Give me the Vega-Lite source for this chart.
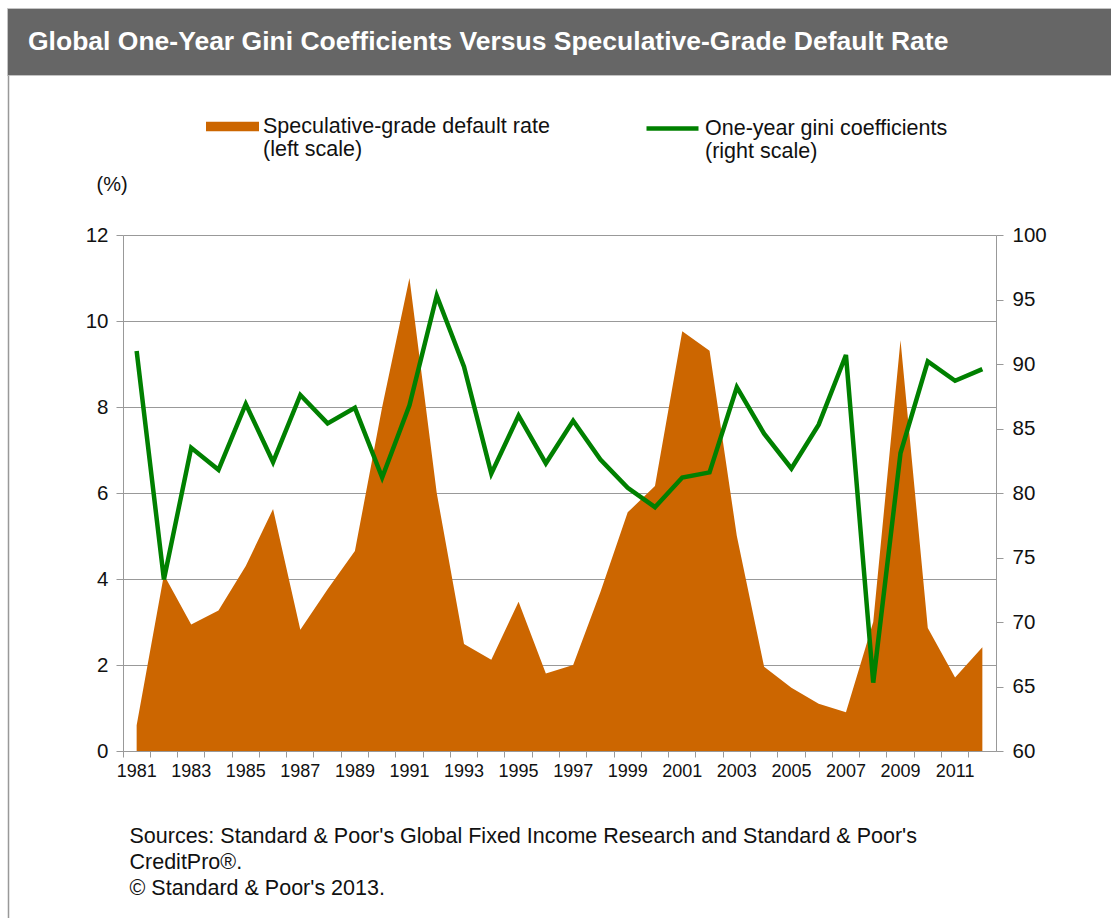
{
  "$schema": "https://vega.github.io/schema/vega-lite/v6.json",
  "background": "white",
  "padding": {"left": 6, "top": 7, "right": 0, "bottom": 0},
  "spacing": 160,
  "bounds": "flush",
  "center": true,
  "resolve": {"legend": {"fill": "independent", "stroke": "independent"}},
  "config": {
    "font": "Liberation Sans",
    "axis": {"labelFont": "Liberation Sans", "titleFont": "Liberation Sans", "labelColor": "#111", "titleColor": "#111", "titleFontWeight": "normal"},
    "legend": {"labelFont": "Liberation Sans", "labelColor": "#111"}
  },
  "datasets": {
    "d": [
      {"year": 1981, "rate": 0.6, "gini": 91.0},
      {"year": 1982, "rate": 4.1, "gini": 73.3},
      {"year": 1983, "rate": 2.94, "gini": 83.5},
      {"year": 1984, "rate": 3.27, "gini": 81.8},
      {"year": 1985, "rate": 4.3, "gini": 86.9},
      {"year": 1986, "rate": 5.63, "gini": 82.4},
      {"year": 1987, "rate": 2.82, "gini": 87.6},
      {"year": 1988, "rate": 3.76, "gini": 85.4},
      {"year": 1989, "rate": 4.65, "gini": 86.6},
      {"year": 1990, "rate": 8.0, "gini": 81.2},
      {"year": 1991, "rate": 11.0, "gini": 86.8},
      {"year": 1992, "rate": 6.0, "gini": 95.3},
      {"year": 1993, "rate": 2.49, "gini": 89.8},
      {"year": 1994, "rate": 2.12, "gini": 81.5},
      {"year": 1995, "rate": 3.47, "gini": 86.0},
      {"year": 1996, "rate": 1.8, "gini": 82.3},
      {"year": 1997, "rate": 2.0, "gini": 85.6},
      {"year": 1998, "rate": 3.7, "gini": 82.6},
      {"year": 1999, "rate": 5.55, "gini": 80.4},
      {"year": 2000, "rate": 6.16, "gini": 78.9},
      {"year": 2001, "rate": 9.76, "gini": 81.2},
      {"year": 2002, "rate": 9.31, "gini": 81.6},
      {"year": 2003, "rate": 5.0, "gini": 88.2},
      {"year": 2004, "rate": 1.96, "gini": 84.6},
      {"year": 2005, "rate": 1.47, "gini": 81.9},
      {"year": 2006, "rate": 1.1, "gini": 85.3},
      {"year": 2007, "rate": 0.9, "gini": 90.7},
      {"year": 2008, "rate": 3.0, "gini": 65.3},
      {"year": 2009, "rate": 9.55, "gini": 83.1},
      {"year": 2010, "rate": 2.86, "gini": 90.2},
      {"year": 2011, "rate": 1.71, "gini": 88.7},
      {"year": 2012, "rate": 2.41, "gini": 89.6}
    ]
  },
  "vconcat": [
    {
      "width": 1105,
      "height": 67,
      "view": {"fill": "#666666", "stroke": "#c4c4c4", "strokeWidth": 1},
      "title": {
        "text": "Global One-Year Gini Coefficients  Versus  Speculative-Grade Default Rate",
        "anchor": "start",
        "orient": "top",
        "offset": -36,
        "baseline": "middle",
        "dx": 21,
        "dy": 24,
        "color": "white",
        "font": "Liberation Sans",
        "fontSize": 26.5,
        "fontWeight": "bold"
      },
      "data": {"values": [{"t": ""}]},
      "mark": {"type": "text"},
      "encoding": {"text": {"field": "t"}}
    },
    {
      "width": 873,
      "height": 516,
      "view": {"stroke": null},
      "data": {"name": "d"},
      "layer": [
        {
          "mark": {"type": "area", "opacity": 1},
          "encoding": {
            "x": {
              "field": "year", "type": "ordinal", "bandPosition": 0.5,
              "scale": {"type": "band", "paddingInner": 0, "paddingOuter": 0},
              "axis": {
                "orient": "bottom",
                "bandPosition": 0,
                "labelAngle": 0,
                "labelExpr": "datum.value % 2 == 1 ? datum.label : ''",
                "labelFontSize": 18,
                "labelPadding": 5,
                "tickSize": 6,
                "tickColor": "#999",
                "domainColor": "#999",
                "grid": false,
                "title": ["Sources: Standard & Poor's Global Fixed Income Research and Standard & Poor's", "CreditPro®.", "© Standard & Poor's 2013."],
                "titleAnchor": "start",
                "titleAlign": "left",
                "titleBaseline": "top",
                "titleX": 6,
                "titleY": 74,
                "titleFontSize": 21.5,
                "titleLineHeight": 26
              }
            },
            "y": {
              "field": "rate", "type": "quantitative",
              "scale": {"domain": [0, 12], "nice": false},
              "axis": {
                "orient": "left",
                "values": [0, 2, 4, 6, 8, 10, 12],
                "grid": true,
                "gridColor": "#999",
                "gridWidth": 1,
                "domainColor": "#999",
                "tickColor": "#999",
                "tickSize": 7,
                "labelFontSize": 20.5,
                "labelPadding": 8,
                "title": "(%)",
                "titleAngle": 0,
                "titleAlign": "left",
                "titleBaseline": "middle",
                "titleX": -27,
                "titleY": -51,
                "titleFontSize": 20
              }
            },
            "fill": {
              "datum": "Speculative-grade default rate|(left scale)",
              "scale": {"range": ["#CC6600"]},
              "legend": {
                "orient": "none",
                "legendX": 83,
                "legendY": -135,
                "title": null,
                "padding": 0,
                "symbolType": "M-1,-0.18L1,-0.18L1,0.18L-1,0.18Z",
                "symbolSize": 2809,
                "symbolStrokeWidth": 0,
                "symbolOpacity": 1,
                "labelFontSize": 21.5,
                "labelOffset": 4,
                "labelLimit": 400,
                "labelExpr": "split(datum.label, '|')"
              }
            }
          }
        },
        {
          "mark": {"type": "line", "strokeWidth": 4.5, "strokeJoin": "miter"},
          "encoding": {
            "x": {"field": "year", "type": "ordinal", "bandPosition": 0.5},
            "y": {
              "field": "gini", "type": "quantitative",
              "scale": {"domain": [60, 100], "nice": false},
              "axis": {
                "orient": "right",
                "values": [60, 65, 70, 75, 80, 85, 90, 95, 100],
                "grid": false,
                "domainColor": "#999",
                "tickColor": "#999",
                "tickSize": 7,
                "labelFontSize": 20.5,
                "labelPadding": 9,
                "title": null
              }
            },
            "stroke": {
              "datum": "One-year gini coefficients|(right scale)",
              "scale": {"range": ["#008000"]},
              "legend": {
                "orient": "none",
                "legendX": 521,
                "legendY": -135,
                "title": null,
                "padding": 0,
                "symbolType": "stroke",
                "symbolSize": 2704,
                "symbolStrokeWidth": 4.5,
                "labelFontSize": 21.5,
                "labelOffset": 4,
                "labelLimit": 400,
                "labelExpr": "split(datum.label, '|')"
              }
            }
          }
        },
        {
          "mark": {"type": "line", "opacity": 0, "strokeWidth": 0},
          "encoding": {
            "x": {"field": "year", "type": "ordinal", "bandPosition": 0.5},
            "y": {
              "field": "rate", "type": "quantitative",
              "scale": {"domain": [0, 12], "nice": false, "range": [684, -160]},
              "axis": {
                "orient": "left",
                "offset": 115,
                "labels": false,
                "ticks": false,
                "grid": false,
                "domain": true,
                "domainColor": "#999",
                "domainWidth": 1.5,
                "title": null
              }
            }
          }
        }
      ],
      "resolve": {"scale": {"y": "independent"}, "axis": {"y": "independent"}}
    }
  ]
}
